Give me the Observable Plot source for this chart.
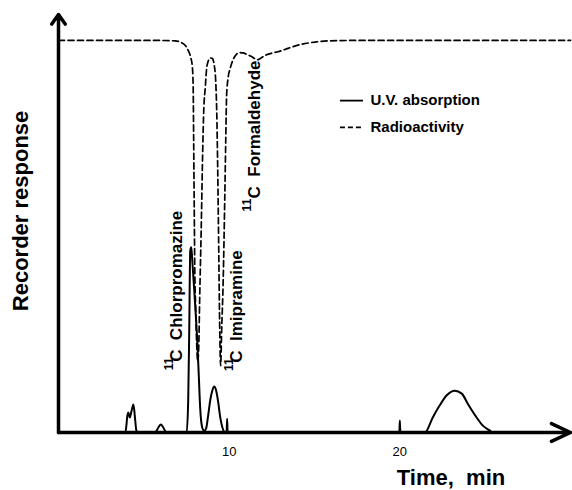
<!DOCTYPE html>
<html><head><meta charset="utf-8">
<script src="https://cdn.jsdelivr.net/npm/d3@7"></script>
<script src="https://cdn.jsdelivr.net/npm/@observablehq/plot@0.6"></script>
<style>body{margin:0;background:#fff} #chart{width:572px;height:490px}</style>
</head><body><div id="chart"></div><script>
// U.V. absorption trace (time in min, response in arbitrary units 0-100)
const uvTime = [0, 3.92, 4.04, 4.09, 4.18, 4.27, 4.39, 4.47, 4.56, 4.62,
  5.67, 5.85, 6.0, 6.14, 6.32,
  7.51, 7.60, 7.66, 7.72, 7.78, 7.84, 7.89, 8.01, 8.13, 8.22, 8.30, 8.42, 8.54,
  8.65, 8.77, 8.89, 9.01, 9.12, 9.24, 9.36, 9.47, 9.59, 9.71, 9.82,
  9.85, 9.88, 9.91,
  19.97, 20.0, 20.03,
  21.46, 21.93, 22.34, 22.75, 23.22, 23.63, 23.98, 24.50, 24.85, 25.26, 25.44, 29.5];
const uvResp = [0, 0, 4.1, 4.8, 3.6, 5.0, 6.7, 4.0, 0.5, 0,
  0, 1.2, 1.9, 1.2, 0,
  0, 7.7, 24.4, 43.5, 44.3, 41.1, 38.0, 30.4, 22.0, 13.6, 6.0, 1.2, 0.4,
  1.0, 4.1, 7.7, 10.0, 11.0, 10.0, 7.2, 3.8, 1.4, 0.2, 0,
  0, 3.3, 0,
  0, 2.9, 0,
  0, 3.6, 6.5, 8.9, 10.0, 9.3, 6.9, 3.6, 1.7, 0.5, 0, 0];

// Radioactivity trace
const radTime = [0, 5.38, 6.84, 7.19, 7.43, 7.60, 7.75, 7.84, 7.89, 7.92, 7.95, 7.98, 8.04, 8.10, 8.16,
  8.22, 8.27, 8.36, 8.45, 8.51, 8.60, 8.68, 8.77, 8.89, 9.01, 9.12, 9.21, 9.27, 9.33, 9.39, 9.44, 9.50,
  9.56, 9.65, 9.74, 9.80, 9.85, 9.94, 10.06, 10.23, 10.41, 10.58, 10.82, 11.05, 11.29, 11.52, 11.70,
  11.87, 12.11, 12.46, 12.87, 13.45, 14.15, 15.03, 15.91, 17.66, 30.0];
const radResp = [93.8, 93.8, 93.7, 93.3, 92.6, 91.4, 89.7, 87.6, 83.0, 69.9, 55.5, 41.1, 29.2, 20.8, 17.0,
  20.8, 31.6, 48.3, 67.5, 77.0, 82.5, 87.1, 88.8, 89.6, 89.5, 88.0, 84.2, 77.0, 62.7, 43.5, 26.8, 16.0,
  24.4, 36.4, 55.5, 69.9, 80.6, 84.9, 87.1, 89.2, 90.4, 90.9, 90.8, 90.4, 90.0, 89.4, 89.2,
  89.6, 90.2, 90.7, 91.1, 91.9, 92.8, 93.4, 93.7, 93.8, 93.8];

const xTicks = [10, 20];

// Peak annotations
const labelNames = ["Chlorpromazine", "Imipramine", "Formaldehyde"];
const labelTime = [6.93, 10.42, 11.50];
const labelResp = [16.9, 16.7, 56.0];
const isotopeTime = [6.50, 9.99, 11.07];
const isotopeResp = [14.9, 14.7, 52.9];

// Legend
const legendNames = ["U.V. absorption", "Radioactivity"];
const legendResp = [79.4, 73.0];

const uv = uvTime.map((t, i) => ({t, r: uvResp[i]}));
const rad = radTime.map((t, i) => ({t, r: radResp[i]}));
const labels = labelNames.map((n, i) => ({n, t: labelTime[i], r: labelResp[i], it: isotopeTime[i], ir: isotopeResp[i]}));
const legend = legendNames.map((n, i) => ({n, r: legendResp[i]}));

const font = "'Liberation Sans', Arial, Helvetica, sans-serif";
const chart = Plot.plot({
  width: 572, height: 490,
  marginLeft: 58, marginRight: 2, marginTop: 14, marginBottom: 58,
  x: {domain: [0, 30]},
  y: {domain: [0, 100]},
  style: {fontFamily: font, background: "white", color: "black"},
  marks: [
    Plot.axisX({ticks: xTicks, tickSize: 0, tickPadding: 14, fontSize: 13, label: null}),
    Plot.axisY({ticks: [], label: null}),
    Plot.line(rad, {x: "t", y: "r", curve: "monotone-x", stroke: "black", strokeWidth: 1.7, strokeDasharray: "6,3.5"}),
    Plot.line(uv, {x: "t", y: "r", curve: "monotone-x", stroke: "black", strokeWidth: 2}),
    Plot.arrow([0], {x1: 0, x2: 30, y1: 0, y2: 0, stroke: "black", strokeWidth: 3.5, headLength: 9, headAngle: 50}),
    Plot.arrow([0], {x1: 0, x2: 0, y1: 0, y2: 100, stroke: "black", strokeWidth: 3.5, headLength: 5, headAngle: 70}),
    Plot.text(labels, {x: "t", y: "r", text: d => "C  " + d.n, rotate: -90, textAnchor: "start", lineAnchor: "middle", fontSize: 17, fontWeight: "bold"}),
    Plot.text(labels, {x: "it", y: "ir", text: () => "11", rotate: -90, textAnchor: "start", lineAnchor: "middle", fontSize: 12, fontWeight: "bold"}),
    Plot.text(["Recorder response"], {x: 0, y: 53, dx: -38, text: d => d, rotate: -90, fontSize: 22, fontWeight: "bold"}),
    Plot.text(["Time,  min"], {x: 23.0, y: 0, dy: 45, text: d => d, fontSize: 22, fontWeight: "bold"}),
    Plot.ruleY(legend.slice(0, 1), {y: "r", x1: 16.52, x2: 17.87, stroke: "black", strokeWidth: 1.8}),
    Plot.ruleY(legend.slice(1, 2), {y: "r", x1: 16.52, x2: 17.87, stroke: "black", strokeWidth: 1.8, strokeDasharray: "5,3"}),
    Plot.text(legend, {x: 18.28, y: "r", text: "n", textAnchor: "start", fontSize: 15, fontWeight: "bold"})
  ]
});
document.getElementById("chart").appendChild(chart);
</script></body></html>
